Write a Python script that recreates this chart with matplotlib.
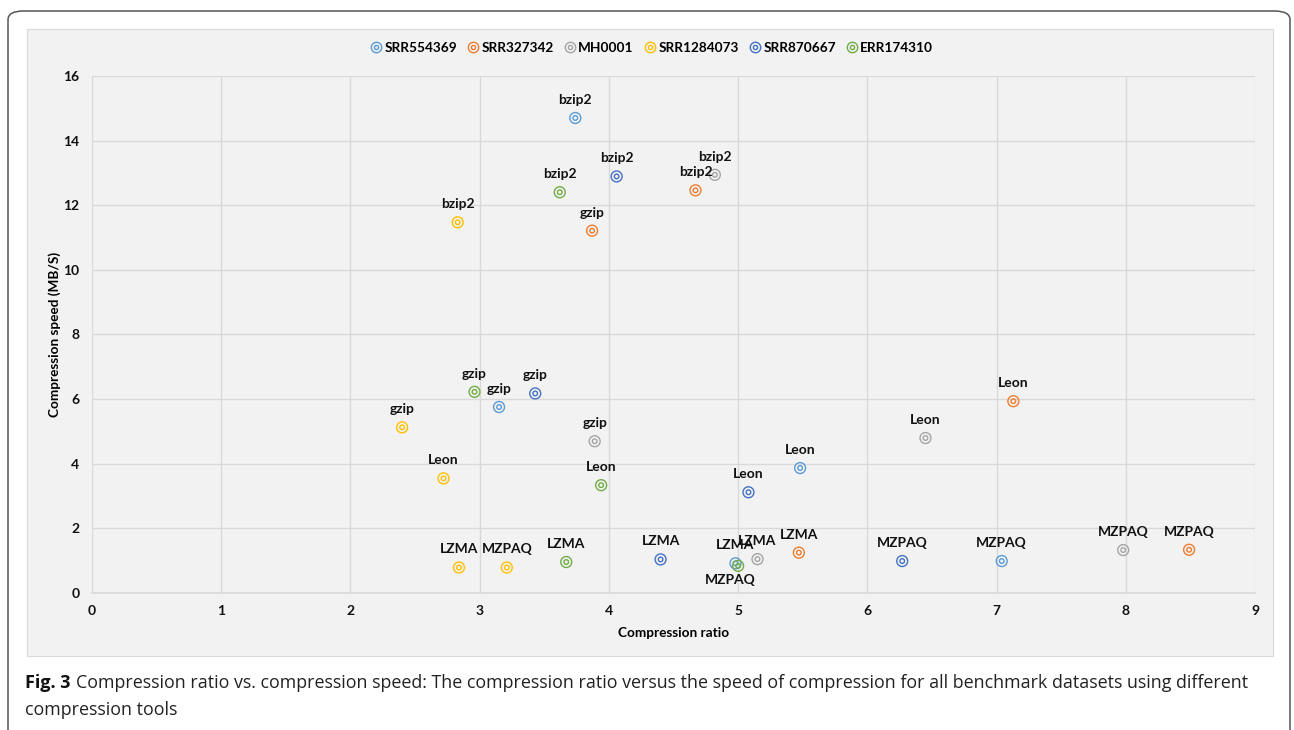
import matplotlib
matplotlib.use("Agg")
import matplotlib.pyplot as plt
from matplotlib.patches import FancyBboxPatch, Rectangle
from matplotlib.lines import Line2D
from matplotlib import font_manager

# Compression tools benchmarked
tools = ["bzip2", "gzip", "Leon", "LZMA", "MZPAQ"]

# Datasets (legend order)
datasets = ["SRR554369", "SRR327342", "MH0001", "SRR1284073", "SRR870667", "ERR174310"]
colors = ["#5B9BD5", "#ED7D31", "#A5A5A5", "#FFC000", "#4472C4", "#70AD47"]

# Compression ratio per dataset, in tool order (bzip2, gzip, Leon, LZMA, MZPAQ)
ratio_SRR554369 = [3.74, 3.15, 5.48, 4.98, 7.04]
ratio_SRR327342 = [4.67, 3.87, 7.13, 5.47, 8.49]
ratio_MH0001 = [4.82, 3.89, 6.45, 5.15, 7.98]
ratio_SRR1284073 = [2.83, 2.40, 2.72, 2.84, 3.21]
ratio_SRR870667 = [4.06, 3.43, 5.08, 4.40, 6.27]
ratio_ERR174310 = [3.62, 2.96, 3.94, 3.67, 5.00]

# Compression speed (MB/s) per dataset, same tool order
speed_SRR554369 = [14.70, 5.75, 3.86, 0.91, 0.98]
speed_SRR327342 = [12.46, 11.21, 5.93, 1.24, 1.33]
speed_MH0001 = [12.94, 4.69, 4.79, 1.04, 1.32]
speed_SRR1284073 = [11.47, 5.12, 3.54, 0.78, 0.78]
speed_SRR870667 = [12.89, 6.17, 3.11, 1.03, 0.98]
speed_ERR174310 = [12.40, 6.22, 3.33, 0.95, 0.83]

# Tool names shown next to each point
labels_SRR554369 = ["bzip2", "gzip", "Leon", "LZMA", "MZPAQ"]
labels_SRR327342 = ["bzip2", "gzip", "Leon", "LZMA", "MZPAQ"]
labels_MH0001 = ["bzip2", "gzip", "Leon", "LZMA", "MZPAQ"]
labels_SRR1284073 = ["bzip2", "gzip", "Leon", "LZMA", "MZPAQ"]
labels_SRR870667 = ["bzip2", "gzip", "Leon", "LZMA", "MZPAQ"]
labels_ERR174310 = ["bzip2", "gzip", "Leon", "LZMA", "MZPAQ"]

x_ticks = list(range(0, 10))
y_ticks = list(range(0, 17, 2))

caption_bold = "Fig. 3"
caption_line1 = ("Compression ratio vs. compression speed: The compression ratio versus "
                 "the speed of compression for all benchmark datasets using different")
caption_line2 = "compression tools"

ratios = [ratio_SRR554369, ratio_SRR327342, ratio_MH0001,
          ratio_SRR1284073, ratio_SRR870667, ratio_ERR174310]
speeds = [speed_SRR554369, speed_SRR327342, speed_MH0001,
          speed_SRR1284073, speed_SRR870667, speed_ERR174310]
labels = [labels_SRR554369, labels_SRR327342, labels_MH0001,
          labels_SRR1284073, labels_SRR870667, labels_ERR174310]

FONT = ["Lato", "DejaVu Sans"]
plt.rcParams["font.family"] = FONT

# Narrow face for the caption when available
available = {f.name for f in font_manager.fontManager.ttflist}
CAP_FONT = "Liberation Sans Narrow" if "Liberation Sans Narrow" in available else "Open Sans"

W, H = 1294, 730
fig = plt.figure(figsize=(W / 100, H / 100), dpi=100)
fig.patch.set_facecolor("white")

# Page frame with rounded corner
frame = FancyBboxPatch((8 / W, -0.05), (1290 - 8) / W, (H - 11) / H + 0.05,
                       boxstyle="round,pad=0,rounding_size=0.012",
                       transform=fig.transFigure, facecolor="white",
                       edgecolor="#555555", linewidth=1.1, zorder=0)
fig.patches.append(frame)

# Grey chart area
chart_bg = Rectangle((27 / W, 1 - 656 / H), (1273 - 27) / W, (656 - 29) / H,
                     transform=fig.transFigure, facecolor="#F2F2F2",
                     edgecolor="#D9D9D9", linewidth=0.8, zorder=1)
fig.patches.append(chart_bg)

ax = fig.add_axes([92 / W, 1 - 592.7 / H, (1255 - 92) / W, (592.7 - 76) / H])
ax.set_facecolor("none")
ax.set_zorder(2)
ax.set_xlim(0, 9)
ax.set_ylim(0, 16)
ax.set_xticks(x_ticks)
ax.set_yticks(y_ticks)
ax.grid(True, color="#D9D9D9", linewidth=1.0)
ax.set_axisbelow(True)
for s in ax.spines.values():
    s.set_visible(False)
ax.spines["bottom"].set_visible(True)
ax.spines["bottom"].set_color("#D9D9D9")
ax.spines["bottom"].set_linewidth(1.2)
ax.tick_params(length=0, labelsize=10, colors="#111111")
for t in ax.get_xticklabels() + ax.get_yticklabels():
    t.set_fontweight("bold")
ax.tick_params(axis="y", pad=9)
ax.tick_params(axis="x", pad=9)

ax.set_xlabel("Compression ratio", fontsize=9.8, fontweight="bold", labelpad=7)
ax.set_ylabel("Compression speed (MB/S)", fontsize=9.8, fontweight="bold", labelpad=2)

for name, col, xs, ys, labs in zip(datasets, colors, ratios, speeds, labels):
    ax.scatter(xs, ys, s=62, facecolors="none", edgecolors=col,
               linewidths=1.0, zorder=3)
    ax.scatter(xs, ys, s=11, facecolors="none", edgecolors=col,
               linewidths=1.0, zorder=3)
    for x, y, lab in zip(xs, ys, labs):
        below = (name == "ERR174310" and lab == "MZPAQ")
        off = (-6, -10) if below else (0, 13)
        ax.annotate(lab, (x, y), xytext=off, textcoords="offset points",
                    ha="center", va="center", fontsize=10,
                    fontweight="bold", color="#111111", zorder=4)

# Legend markers: double ring like the plotted points
leg_handles = []
for col in colors:
    leg_handles.append((Line2D([], [], marker="o", ls="none", markersize=7.5,
                               markerfacecolor="none", markeredgecolor=col,
                               markeredgewidth=1.0),
                        Line2D([], [], marker="o", ls="none", markersize=3,
                               markerfacecolor="none", markeredgecolor=col,
                               markeredgewidth=1.0)))
fig.legend(leg_handles, datasets, loc="center",
           bbox_to_anchor=(652 / W, 1 - 48 / H), ncol=6, frameon=False,
           handlelength=0.8, handletextpad=0.2, columnspacing=0.8,
           prop={"family": FONT, "weight": "bold", "size": 9.8})

# Caption: bold figure number followed by regular text
renderer = fig.canvas.get_renderer()
cap_size = 13
t_bold = fig.text(25 / W, 1 - 683 / H, caption_bold, fontsize=cap_size,
                  fontweight="bold", ha="left", va="center", family=CAP_FONT,
                  color="#111111")
bb = t_bold.get_window_extent(renderer)
t1 = fig.text((bb.x1 + 5) / W, 1 - 683 / H, caption_line1, fontsize=cap_size,
              ha="left", va="center", family=CAP_FONT, color="#222222")
bb1 = t1.get_window_extent(renderer)
# keep the first line within the page frame
if bb1.x1 > 1250:
    scale = (1250 - bb.x1 - 5) / (bb1.x1 - bb1.x0)
    t1.set_fontsize(cap_size * scale)
fig.text(25 / W, 1 - 710 / H, caption_line2, fontsize=t1.get_fontsize(),
         ha="left", va="center", family=CAP_FONT, color="#222222")

fig.savefig("out.png", dpi=100)
